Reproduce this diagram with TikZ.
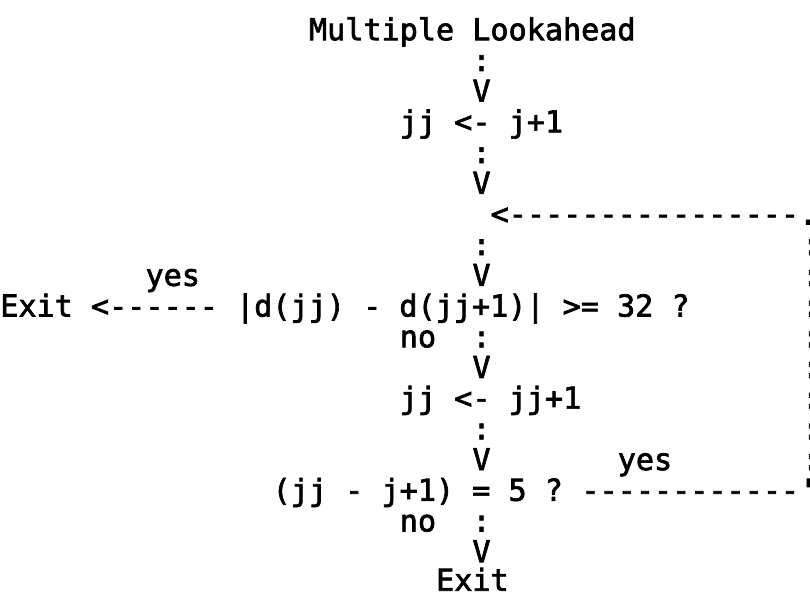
\documentclass[tikz,border=0pt]{standalone}
\usepackage{fontspec}
\setmonofont[FakeBold=2.2]{DejaVu Sans Mono}

\begin{document}
\begin{tikzpicture}[x=13.62pt,y=-23.025pt,
    font=\ttfamily\fontsize{22.6}{26}\selectfont,
    every node/.style={anchor=base west,inner sep=0pt}]
  \useasboundingbox (0,0) rectangle (44.6,19.316);
  \clip (0,0) rectangle (44.6,19.316);
  % one character per column, one line per row
  \node (title) at (17,1.31) {Multiple Lookahead};
  \node (c1) at (26,2.31) {:};
  \node (v1) at (26,3.31) {V};
  \node (init) at (22,4.31) {jj <- j+1};
  \node (c2) at (26,5.31) {:};
  \node (v2) at (26,6.31) {V};
  \node (back) at (27,7.31) {<----------------.};
  \node (c3) at (26,8.31) {:};
  \node (yes1) at (8,9.31) {yes};
  \node (v3) at (26,9.31) {V};
  \node (test1) at (0,10.31) {Exit <------ |d(jj) - d(jj+1)| >= 32 ?};
  \node (no1) at (22,11.31) {no};
  \node (c4) at (26,11.31) {:};
  \node (v4) at (26,12.31) {V};
  \node (step) at (22,13.31) {jj <- jj+1};
  \node (c5) at (26,14.31) {:};
  \node (v5) at (26,15.31) {V};
  \node (yes2) at (34,15.31) {yes};
  \node (test2) at (15,16.31) {(jj - j+1) = 5 ?};
  \node (loop) at (32,16.31) {------------'};
  \node (no2) at (22,17.31) {no};
  \node (c6) at (26,17.31) {:};
  \node (v6) at (26,18.31) {V};
  \node (exit2) at (24,19.24) {Exit};
  % return line, mostly past the right edge
  \node (r1) at (44.15,8.31) {:};
  \node (r2) at (44.15,9.31) {:};
  \node (r3) at (44.15,10.31) {:};
  \node (r4) at (44.15,11.31) {:};
  \node (r5) at (44.15,12.31) {:};
  \node (r6) at (44.15,13.31) {:};
  \node (r7) at (44.15,14.31) {:};
  \node (r8) at (44.15,15.31) {:};
\end{tikzpicture}
\end{document}
